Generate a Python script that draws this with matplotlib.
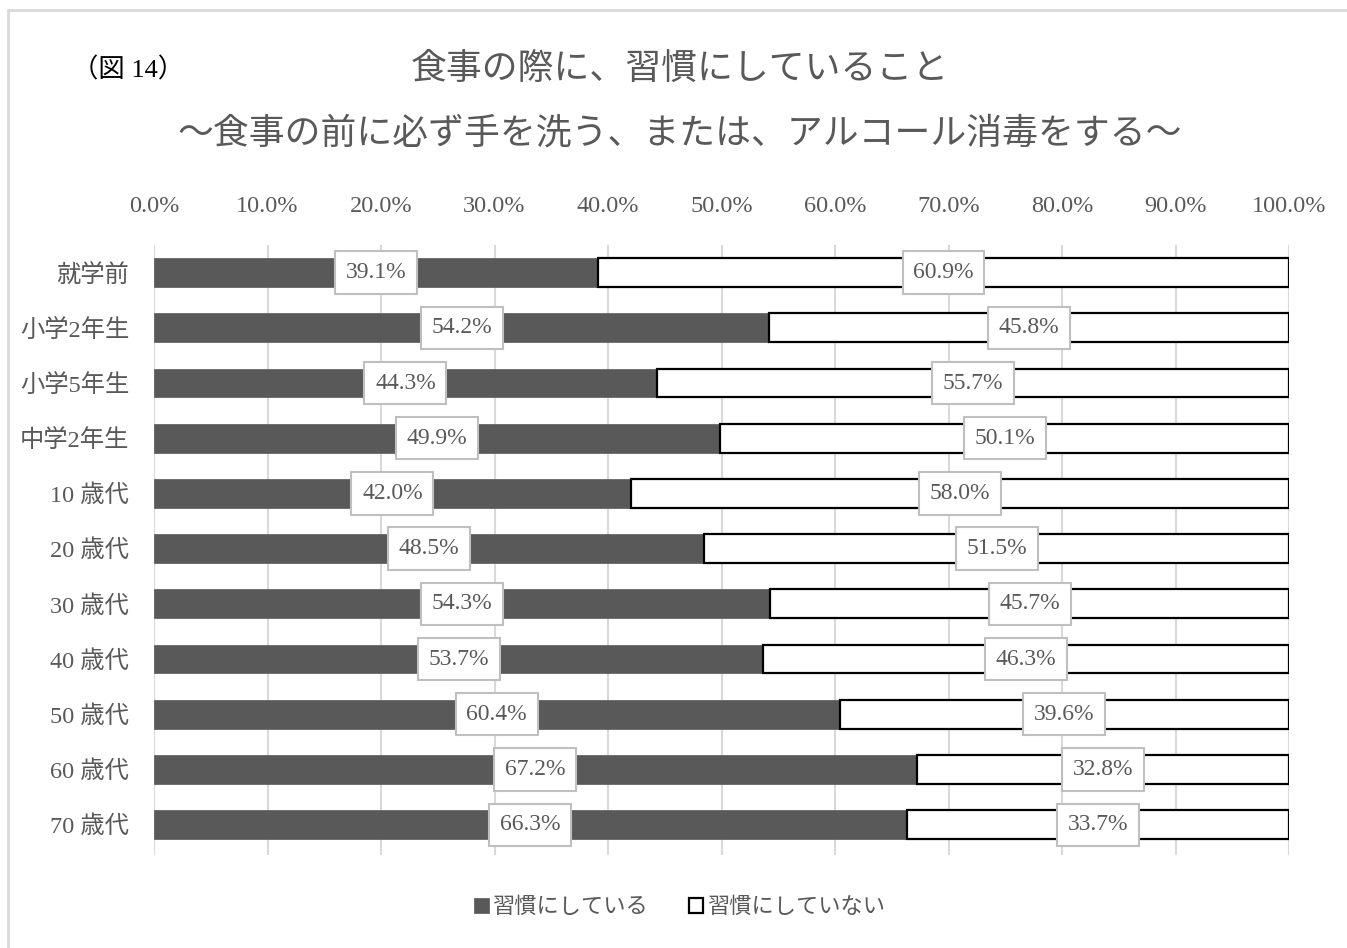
import matplotlib
matplotlib.use("Agg")
import matplotlib.pyplot as plt
import numpy as np
from matplotlib.patches import Rectangle

plt.rcParams['font.family'] = ['Liberation Serif', 'Noto Sans CJK JP', 'DejaVu Sans']

categories = ["就学前", "小学2年生", "小学5年生", "中学2年生", "10 歳代", "20 歳代",
              "30 歳代", "40 歳代", "50 歳代", "60 歳代", "70 歳代"]
habit = [39.1, 54.2, 44.3, 49.9, 42.0, 48.5, 54.3, 53.7, 60.4, 67.2, 66.3]
no_habit = [60.9, 45.8, 55.7, 50.1, 58.0, 51.5, 45.7, 46.3, 39.6, 32.8, 33.7]
series_names = ["習慣にしている", "習慣にしていない"]
xticks = [0, 10, 20, 30, 40, 50, 60, 70, 80, 90, 100]

gray_text = "#595959"
dark = "#595959"

fig = plt.figure(figsize=(13.47, 9.48), dpi=100)
# outer frame of the chart area
fig.patches.append(Rectangle((8 / 1347, -0.05), 1.2, 1 - 10 / 948 + 0.05,
                             transform=fig.transFigure, fill=False,
                             edgecolor="#d9d9d9", linewidth=2))

ax = fig.add_axes([154 / 1347, 1 - 855 / 948, 1135 / 1347, 610 / 948])

y = np.arange(len(categories))
h = 0.52
ax.barh(y, habit, height=h, color=dark, edgecolor=dark, linewidth=0.5,
        label=series_names[0], zorder=3)
ax.barh(y, no_habit, left=habit, height=h, color="white", edgecolor="black",
        linewidth=1.6, label=series_names[1], zorder=3)

box = dict(boxstyle="square,pad=0.45", facecolor="white", edgecolor="#bfbfbf", linewidth=1.5)
for i in range(len(categories)):
    ax.text(habit[i] / 2, y[i], f"{habit[i]:.1f}%", ha="center", va="center",
            fontsize=17, color=gray_text, bbox=box, zorder=5)
    ax.text(habit[i] + no_habit[i] / 2, y[i], f"{no_habit[i]:.1f}%", ha="center",
            va="center", fontsize=17, color=gray_text, bbox=box, zorder=5)

ax.set_xlim(0, 100)
ax.set_ylim(len(categories) - 0.45, -0.5)
ax.set_xticks(xticks)
ax.set_xticklabels([f"{v:.1f}%" for v in xticks])
ax.xaxis.tick_top()
ax.tick_params(axis="x", length=0, pad=20, labelsize=17.5, labelcolor=gray_text)
ax.set_yticks(y)
ax.set_yticklabels(categories)
ax.tick_params(axis="y", length=0, pad=18, labelsize=17.5, labelcolor=gray_text)
ax.grid(axis="x", color="#d9d9d9", linewidth=1.5, zorder=0)
for s in ax.spines.values():
    s.set_visible(False)

fig.text(680 / 1347, 1 - 70 / 948, "食事の際に、習慣にしていること", ha="center", va="center",
         fontsize=25.8, color=gray_text)
fig.text(680 / 1347, 1 - 135 / 948, "～食事の前に必ず手を洗う、または、アルコール消毒をする～",
         ha="center", va="center", fontsize=25.8, color=gray_text)
fig.text(128 / 1347, 1 - 70 / 948, "（図 14）", ha="center", va="center",
         fontsize=19, color="black")

leg = fig.legend(loc="center", bbox_to_anchor=(680 / 1347, 1 - 908 / 948), ncol=2,
                 frameon=False, fontsize=16, handlelength=0.65, handleheight=0.65,
                 handletextpad=0.2, columnspacing=1.8)
for t in leg.get_texts():
    t.set_color(gray_text)

fig.savefig("out.png", dpi=100)
